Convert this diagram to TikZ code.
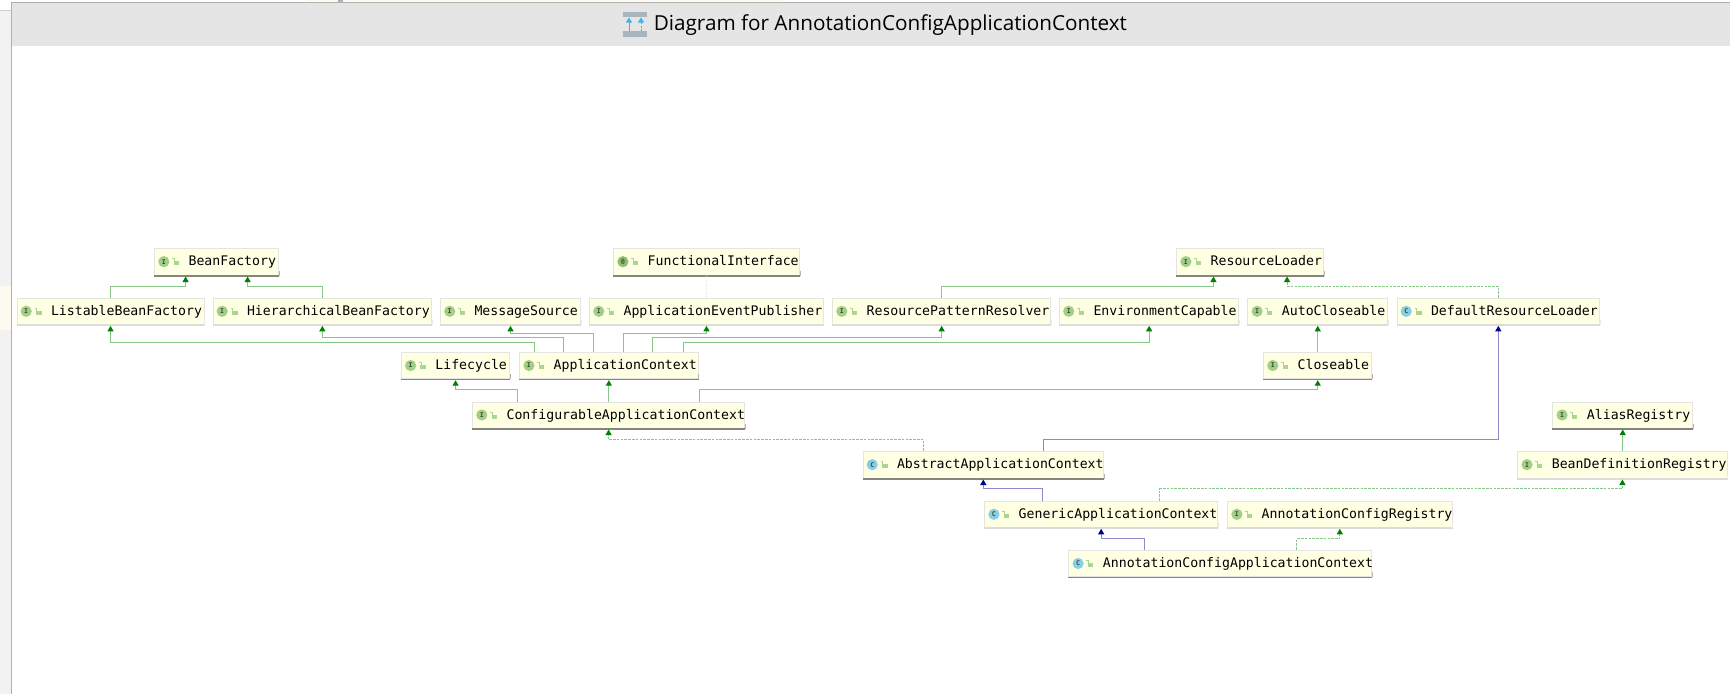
\documentclass[tikz,border=0pt]{standalone}
\usepackage{fontspec}
\setmainfont{Open Sans}
\setmonofont{DejaVu Sans Mono}
\usetikzlibrary{arrows.meta,calc}

\definecolor{boxfill}{HTML}{FFFFE4}
\definecolor{boxedge}{HTML}{E4E4E0}
\definecolor{shadelight}{HTML}{DCDCDC}
\definecolor{shadedark}{HTML}{85857E}
\definecolor{ifacegreen}{HTML}{A2CF88}
\definecolor{annotgreen}{HTML}{8FBF74}
\definecolor{classblue}{HTML}{87CFE6}
\definecolor{lockgreen}{HTML}{A9D690}
\definecolor{glyphdark}{HTML}{3A4A34}
\definecolor{linegreen}{HTML}{86C788}
\definecolor{tipgreen}{HTML}{008000}
\definecolor{lineblue}{HTML}{8A8ACC}
\definecolor{tipblue}{HTML}{000090}
\definecolor{headergray}{HTML}{E5E5E5}
\definecolor{sidegray}{HTML}{F2F2F2}
\definecolor{framegray}{HTML}{B0B0B0}
\definecolor{barsteel}{HTML}{A9B4BD}
\definecolor{arrowsky}{HTML}{40B6E0}
\definecolor{palerow}{HTML}{FDFBEF}

\tikzset{
  classbox/.style={draw=boxedge,fill=boxfill,line width=1pt,inner xsep=0pt,inner ysep=0pt,
    align=flush left,text height=10.5pt,text depth=2.5pt,
    font=\ttfamily\fontsize{13.2}{15}\selectfont,text=black},
  badge/.style={inner sep=0pt,text=glyphdark,font=\ttfamily\bfseries\fontsize{6.5}{7}\selectfont},
  realize/.style={draw=linegreen,line width=0.9pt,dash pattern=on 2.6pt off 1.2pt,
    -{Triangle[length=5.5pt,width=6pt,color=tipgreen]}},
  ext/.style={draw=linegreen,line width=1pt,
    -{Triangle[length=5.5pt,width=6pt,color=tipgreen]}},
  extblue/.style={draw=lineblue,line width=1pt,
    -{Triangle[length=5.5pt,width=6pt,color=tipblue]}},
}

% One diagram entry: id, left, top, right, bottom, badge colour, badge glyph, bottom-edge colour, label
\newcommand{\classentry}[9]{%
  \pgfmathsetmacro{\boxw}{#4-#2}%
  \pgfmathsetmacro{\boxh}{#5-#3}%
  \node[classbox,minimum width=\boxw pt,text width=\boxw pt,minimum height=\boxh pt]
    (#1) at ({(#2+#4)/2},{(#3+#5)/2}) {\hspace*{34pt}#9};
  \draw[#8,line width=1.6pt] ([yshift=-0.4pt]#1.south west) -- ([yshift=-0.4pt]#1.south east);
  \draw[#8!60!white,line width=1pt] (#1.south east) -- ([yshift=5pt]#1.south east);
  \fill[#6] ($(#1.west)+(9.7,0)$) circle[radius=5.6pt];
  \node[badge] (#1-glyph) at ($(#1.west)+(9.7,0)$) {#7};
  \fill[lockgreen] ($(#1.west)+(19.5,-0.5)$) rectangle ($(#1.west)+(25,3.5)$);
  \draw[lockgreen,line width=0.8pt] ($(#1.west)+(20,-0.5)$) -- ($(#1.west)+(20,-3)$) -- ($(#1.west)+(18,-3)$);
}

\begin{document}
\begin{tikzpicture}[x=1pt,y=-1pt]
\useasboundingbox (0,0) rectangle (1730,694);
\fill[white] (0,0) rectangle (1730,694);

% Window chrome
\fill[sidegray] (0,10) rectangle (11,694);
\fill[palerow] (0,286) rectangle (11,330);
\draw[black!20,line width=1pt] (0,10) -- (11,10);
\fill[palerow] (306,0) rectangle (784,2);
\fill[barsteel] (338,0) rectangle (343,2);
\fill[headergray] (11,3) rectangle (1730,46);
\draw[framegray,line width=1pt] (11.5,694) -- (11.5,2.5) -- (1730,2.5);

% Title bar
\fill[barsteel] (623,11.5) rectangle (647.4,17);
\fill[barsteel] (623,31) rectangle (647.4,36.7);
\draw[arrowsky,line width=1pt,-{Triangle[length=5pt,width=6pt]}] (629,31) -- (629,17.5);
\draw[arrowsky,line width=1pt,dash pattern=on 2pt off 1.5pt,-{Triangle[length=5pt,width=6pt]}] (641,31) -- (641,17.5);
\node[anchor=west,inner sep=0pt,font=\fontsize{20.7}{24}\selectfont,text=black] (title) at (653.6,25.5)
  {Diagram for AnnotationConfigApplicationContext};

% Diagram entries
\classentry{beanfactory}{154.6}{248.3}{278.6}{275}{ifacegreen}{I}{shadedark}{BeanFactory}
\classentry{functional}{613.7}{248.3}{799.7}{275}{annotgreen}{@}{shadedark}{FunctionalInterface}
\classentry{resloader}{1176.7}{248.3}{1323.6}{275}{ifacegreen}{I}{shadedark}{ResourceLoader}
\classentry{listable}{17}{298.3}{204}{324.3}{ifacegreen}{I}{shadelight}{ListableBeanFactory}
\classentry{hierarchical}{213}{298.3}{431.7}{324.3}{ifacegreen}{I}{shadelight}{HierarchicalBeanFactory}
\classentry{message}{440.5}{298.3}{580.5}{324.3}{ifacegreen}{I}{shadelight}{MessageSource}
\classentry{publisher}{589.6}{298.3}{823.4}{324.3}{ifacegreen}{I}{shadelight}{ApplicationEventPublisher}
\classentry{resolver}{832.6}{298.3}{1050.7}{324.3}{ifacegreen}{I}{shadelight}{ResourcePatternResolver}
\classentry{envcapable}{1059.5}{298.3}{1238.7}{324.3}{ifacegreen}{I}{shadelight}{EnvironmentCapable}
\classentry{autocloseable}{1247.9}{298.3}{1387.6}{324.3}{ifacegreen}{I}{shadelight}{AutoCloseable}
\classentry{defaultloader}{1397}{298.3}{1599.6}{324.3}{classblue}{C}{shadelight}{DefaultResourceLoader}
\classentry{lifecycle}{401.4}{352.3}{509.7}{378.7}{ifacegreen}{I}{shadedark}{Lifecycle}
\classentry{appcontext}{519.7}{352.3}{698}{378.7}{ifacegreen}{I}{shadedark}{ApplicationContext}
\classentry{closeable}{1263.6}{352.3}{1371.9}{378.7}{ifacegreen}{I}{shadedark}{Closeable}
\classentry{configurable}{472.6}{402}{744.6}{428}{ifacegreen}{I}{shadedark}{ConfigurableApplicationContext}
\classentry{alias}{1552.9}{402}{1692.6}{428}{ifacegreen}{I}{shadedark}{AliasRegistry}
\classentry{abstract}{863}{451.3}{1103.6}{478}{classblue}{C}{shadedark}{AbstractApplicationContext}
\classentry{beandef}{1517.8}{451.3}{1727}{478}{ifacegreen}{I}{shadelight}{BeanDefinitionRegistry}
\classentry{generic}{984.7}{501.3}{1217.6}{527.3}{classblue}{C}{shadelight}{GenericApplicationContext}
\classentry{annotreg}{1227.7}{501.3}{1452}{527.3}{ifacegreen}{I}{shadelight}{AnnotationConfigRegistry}
\classentry{annotctx}{1068.9}{550.3}{1371.9}{576.7}{classblue}{C}{shadedark}{AnnotationConfigApplicationContext}

% Faint annotation link
\draw[black!10,line width=0.8pt,dash pattern=on 2pt off 2pt] (functional.south) -- (publisher.north);

% Interface inheritance
\draw[ext] (listable.north) -- ++(0,-11.6) -| ([xshift=-31pt,yshift=-1pt]beanfactory.south);
\draw[ext] (hierarchical.north) -- ++(0,-11.6) -| ([xshift=31pt,yshift=-1pt]beanfactory.south);
\draw[ext] ([xshift=-74.2pt]appcontext.north) -- ++(0,-9) -| ([yshift=-1pt]listable.south);
\draw[ext] ([xshift=-45.1pt]appcontext.north) -- ++(0,-14) -| ([yshift=-1pt]hierarchical.south);
\draw[ext] ([xshift=-15.2pt]appcontext.north) -- ++(0,-18) -| ([yshift=-1pt]message.south);
\draw[ext] ([xshift=14.4pt]appcontext.north) -- ++(0,-18) -| ([yshift=-1pt]publisher.south);
\draw[ext] ([xshift=44pt]appcontext.north) -- ++(0,-14) -| ([yshift=-1pt]resolver.south);
\draw[ext] ([xshift=74.5pt]appcontext.north) -- ++(0,-9) -| ([yshift=-1pt]envcapable.south);
\draw[ext] ([xshift=-90.8pt]configurable.north) -- ++(0,-11.7) -| ([yshift=-1pt]lifecycle.south);
\draw[ext] (configurable.north -| appcontext.south) -- ([yshift=-1pt]appcontext.south);
\draw[ext] ([xshift=90.8pt]configurable.north) -- ++(0,-11.7) -| ([yshift=-1pt]closeable.south);
\draw[ext] (closeable.north) -- ([yshift=-1pt]autocloseable.south);
\draw[ext] (resolver.north) -- ++(0,-11.6) -| ([xshift=-36.7pt,yshift=-1pt]resloader.south);
\draw[ext] (beandef.north) -- ([yshift=-1pt]alias.south);

% Interface implementation
\draw[realize] (defaultloader.north) -- ++(0,-11.6) -| ([xshift=36.9pt,yshift=-1pt]resloader.south);
\draw[realize] ([xshift=-59.6pt]abstract.north) -- ++(0,-11) -| ([yshift=-1pt]configurable.south);
\draw[realize] ([xshift=58.7pt]generic.north) -- ++(0,-12) -| ([yshift=-1pt]beandef.south);
\draw[realize] ([xshift=76.3pt]annotctx.north) -- ++(0,-11) -| ([yshift=-1pt]annotreg.south);

% Class inheritance
\draw[extblue] ([xshift=60.3pt]abstract.north) -- ++(0,-11) -| ([yshift=-1pt]defaultloader.south);
\draw[extblue] ([xshift=-58.6pt]generic.north) -- ++(0,-12) -| ([yshift=-1pt]abstract.south);
\draw[extblue] ([xshift=-75.8pt]annotctx.north) -- ++(0,-11) -| ([yshift=-1pt]generic.south);
\end{tikzpicture}
\end{document}
